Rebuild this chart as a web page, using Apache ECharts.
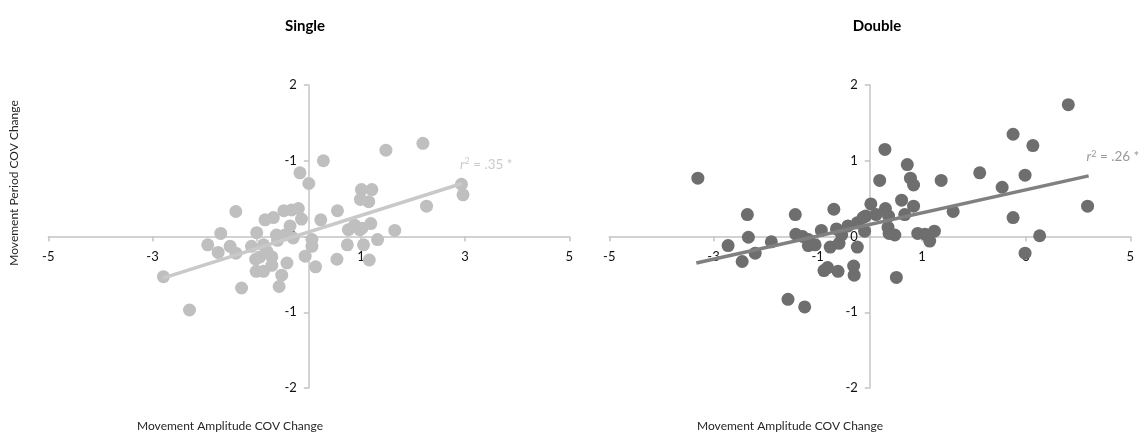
<!DOCTYPE html>
<html>
<head>
<meta charset="utf-8">
<script src="https://cdn.jsdelivr.net/npm/echarts@6/dist/echarts.min.js"></script>
<style>
  html, body { margin: 0; padding: 0; background: #fff; }
  #chart { width: 1145px; height: 440px; }
</style>
</head>
<body>
<div id="chart"></div>
<script>
// Panel titles and axis titles
const panelTitles = ['Single', 'Double'];
const xTitle = 'Movement Amplitude COV Change';
const yTitle = 'Movement Period COV Change';

// Tick labels for the value axes (x: -5..5 step 2, y: -2..2 step 1)
const singleYTickLabels = { '-2': '-2', '-1': '-1', '0': '0', '1': '-1', '2': '2' };
const doubleYTickLabels = { '-2': '-2', '-1': '-1', '0': '0', '1': '1', '2': '2' };

// Single condition: [amplitude change, period change]
const singlePoints = [
  [-2.79, -0.53], [-2.29, -0.97], [-1.29, -0.68], [-1.40, 0.33], [-1.94, -0.11],
  [-1.69, 0.04], [-1.74, -0.21], [-1.51, -0.13], [-1.40, -0.22], [-1.10, -0.13],
  [-1.00, 0.05], [-1.01, -0.46], [-0.87, -0.46], [-0.87, -0.11], [-0.94, -0.27],
  [-0.71, -0.27], [-0.71, -0.38], [-1.02, -0.30], [-0.84, 0.22], [-0.68, 0.25],
  [-0.48, 0.34], [-0.33, 0.35], [-0.20, 0.37], [-0.14, 0.23], [-0.36, 0.14],
  [-0.62, 0.02], [-0.46, 0.02], [-0.30, -0.02], [-0.42, -0.35], [-0.52, -0.51],
  [-0.57, -0.66], [-0.17, 0.84], [0.00, 0.70], [0.28, 1.00], [0.23, 0.22],
  [0.06, -0.04], [0.06, -0.13], [-0.07, -0.26], [0.13, -0.40], [0.55, 0.34],
  [0.54, -0.30], [0.74, -0.11], [0.76, 0.09], [0.88, 0.15], [0.98, 0.09],
  [1.05, -0.11], [1.02, 0.11], [1.19, 0.17], [1.16, -0.31], [1.32, -0.04],
  [1.65, 0.08], [1.01, 0.62], [1.21, 0.62], [0.99, 0.49], [1.15, 0.46],
  [1.48, 1.14], [2.19, 1.23], [2.26, 0.40], [2.93, 0.69], [2.96, 0.55],
  [-0.80, -0.20], [-0.60, -0.05]
];

// Double condition: [amplitude change, period change]
const doublePoints = [
  [-3.30, 0.77], [-2.72, -0.12], [-2.45, -0.33], [-2.35, 0.29], [-2.33, -0.01],
  [-2.20, -0.22], [-1.89, -0.07], [-1.57, -0.83], [-1.25, -0.93], [-1.43, 0.29],
  [-1.42, 0.03], [-1.29, 0.00], [-1.18, -0.12], [-1.05, -0.11], [-0.93, 0.08],
  [-0.88, -0.45], [-0.81, -0.41], [-0.76, -0.14], [-0.69, 0.36], [-0.64, 0.10],
  [-0.61, -0.46], [-0.59, -0.09], [-0.54, 0.02], [-0.42, 0.14], [-0.31, -0.39],
  [-0.30, -0.51], [-0.24, -0.14], [-0.24, 0.18], [-0.10, 0.07], [-0.08, 0.27],
  [0.02, 0.43], [0.19, 0.74], [0.29, 1.15], [0.12, 0.29], [0.30, 0.37],
  [0.36, 0.27], [0.35, 0.12], [0.37, 0.04], [0.48, 0.02], [0.51, -0.54],
  [0.61, 0.48], [0.67, 0.29], [0.72, 0.95], [0.78, 0.77], [0.84, 0.68],
  [0.84, 0.40], [0.92, 0.04], [1.06, 0.03], [1.15, -0.06], [1.24, 0.07],
  [1.37, 0.74], [1.60, 0.33], [2.11, 0.84], [2.54, 0.65], [2.75, 1.35],
  [2.75, 0.25], [2.98, 0.81], [2.98, -0.22], [3.13, 1.20], [3.26, 0.01],
  [3.81, 1.74], [4.18, 0.40], [-0.13, 0.25], [-1.18, -0.04]
];

// Fitted trend line endpoints and their fit statistics
const singleTrend = [[-2.80, -0.55], [2.94, 0.70]];
const doubleTrend = [[-3.33, -0.35], [4.20, 0.80]];
const singleR2 = '.35';
const doubleR2 = '.26';

const FONT = 'Lato';
const AXIS_COLOR = '#c4c4c4';
const GRID_W = 521;
const GRID_H = 303;

// Axes cross at the origin: shift each whole axis (line, ticks, labels) to the middle of its grid
function makeXAxis(gridIndex) {
  return {
    type: 'value', gridIndex, min: -5, max: 5, interval: 2,
    position: 'bottom', offset: -GRID_H / 2,
    splitLine: { show: false },
    axisLine: { onZero: false, lineStyle: { color: AXIS_COLOR, width: 1.5 } },
    axisTick: { show: true, length: 5, lineStyle: { color: AXIS_COLOR, width: 1.5 } },
    axisLabel: { color: '#111', fontFamily: FONT, fontSize: 13, margin: 14 }
  };
}
function makeYAxis(gridIndex, labels) {
  return {
    type: 'value', gridIndex, min: -2, max: 2, interval: 1,
    position: 'left', offset: -GRID_W / 2,
    splitLine: { show: false },
    axisLine: { onZero: false, lineStyle: { color: AXIS_COLOR, width: 1.5 } },
    axisTick: { show: true, length: 5, lineStyle: { color: AXIS_COLOR, width: 1.5 } },
    axisLabel: {
      color: '#111', fontFamily: FONT, fontSize: 13, margin: 12,
      formatter: v => labels[String(v)]
    }
  };
}
function r2Label(r2, color) {
  return {
    show: true, position: 'top', align: 'left', offset: [-2, -6],
    formatter: '{i|r}{s|2}{t| = ' + r2 + ' *}',
    rich: {
      i: { fontFamily: FONT, fontStyle: 'italic', fontSize: 13.5, color },
      s: { fontFamily: FONT, fontSize: 9, color, verticalAlign: 'top', padding: [0, 0, 6, 0] },
      t: { fontFamily: FONT, fontSize: 13.5, color }
    }
  };
}
function scatterSeries(idx, pts, color) {
  return {
    type: 'scatter', xAxisIndex: idx, yAxisIndex: idx, data: pts,
    symbolSize: 13, itemStyle: { color, opacity: 1 }, z: 3
  };
}
function trendSeries(idx, ends, color) {
  return {
    type: 'line', xAxisIndex: idx, yAxisIndex: idx, data: ends,
    showSymbol: false, symbol: 'none', silent: true,
    lineStyle: { color, width: 3.5 }, z: 4
  };
}
function labelSeries(idx, ends, r2, color) {
  return {
    type: 'scatter', xAxisIndex: idx, yAxisIndex: idx,
    data: [ends[ends.length - 1]], symbolSize: 1,
    itemStyle: { color: 'rgba(0,0,0,0)' }, label: r2Label(r2, color), z: 5
  };
}

const chart = echarts.init(document.getElementById('chart'), null, { renderer: 'canvas' });
chart.setOption({
  animation: false,
  backgroundColor: '#ffffff',
  title: [
    { text: panelTitles[0], left: 300, top: 14, textAlign: 'center',
      textStyle: { fontFamily: FONT, fontWeight: 'bold', fontSize: 15, color: '#000' } },
    { text: panelTitles[1], left: 872, top: 14, textAlign: 'center',
      textStyle: { fontFamily: FONT, fontWeight: 'bold', fontSize: 15, color: '#000' } }
  ],
  grid: [
    { left: 48.3, top: 85, width: GRID_W, height: GRID_H },
    { left: 609.3, top: 85, width: GRID_W, height: GRID_H }
  ],
  xAxis: [makeXAxis(0), makeXAxis(1)],
  yAxis: [makeYAxis(0, singleYTickLabels), makeYAxis(1, doubleYTickLabels)],
  series: [
    scatterSeries(0, singlePoints, '#bfbfbf'),
    trendSeries(0, singleTrend, '#c9c9c9'),
    labelSeries(0, singleTrend, singleR2, '#bdbdbd'),
    scatterSeries(1, doublePoints, '#6e6e6e'),
    trendSeries(1, doubleTrend, '#808080'),
    labelSeries(1, doubleTrend, doubleR2, '#808080')
  ],
  graphic: [
    { type: 'text', x: 230, y: 420, style: { text: xTitle, fontFamily: FONT, fontSize: 12, fill: '#262626', align: 'center' } },
    { type: 'text', x: 790, y: 420, style: { text: xTitle, fontFamily: FONT, fontSize: 12, fill: '#262626', align: 'center' } },
    { type: 'text', x: 8, y: 183, rotation: Math.PI / 2,
      style: { text: yTitle, fontFamily: FONT, fontSize: 12, fill: '#262626', align: 'center', verticalAlign: 'top' } }
  ]
});
</script>
</body>
</html>
